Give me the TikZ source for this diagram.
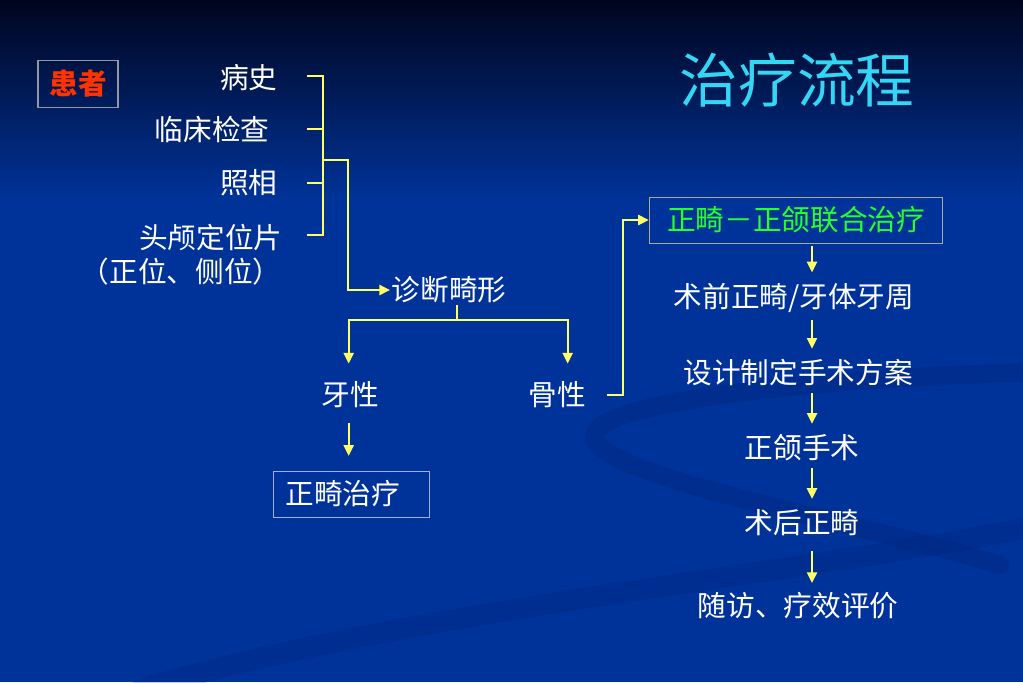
\documentclass[tikz,border=0pt]{standalone}
\usepackage{fontspec}
\setmainfont{Noto Sans CJK SC}
\usetikzlibrary{arrows.meta,positioning}
\definecolor{bgblue}{RGB}{0,51,153}
\definecolor{bgtop}{RGB}{0,5,30}
\definecolor{swoosh}{RGB}{0,30,110}
\definecolor{lineyellow}{RGB}{255,255,102}
\definecolor{titlecyan}{RGB}{51,214,245}
\definecolor{patred}{RGB}{255,51,0}
\definecolor{combogreen}{RGB}{40,255,40}
\definecolor{boxgray}{RGB}{150,150,160}
\definecolor{boxblue}{RGB}{160,175,215}
\tikzset{
  txt/.style={text=white,font=\fontsize{21.5}{24}\selectfont,inner sep=1pt},
  lnk/.style={draw=lineyellow,line width=1.6pt},
  arr/.style={lnk,-{Triangle[length=8pt,width=7.5pt]}},
}
\begin{document}
\begin{tikzpicture}[x=0.75pt,y=0.75pt,yscale=-1,xscale=1]
\useasboundingbox (0,0) rectangle (1023,682);
%background
\fill[bgblue] (0,0) rectangle (1023,682);
\shade[top color=bgtop,bottom color=bgblue] (0,0) rectangle (1023,200);
\draw[swoosh,line width=14pt,opacity=0.25,line cap=round] (1040,372) .. controls (800,378) and (560,405) .. (598,445) .. controls (640,485) and (850,520) .. (1000,565);
\draw[swoosh,line width=16pt,opacity=0.2,line cap=round] (140,690) .. controls (400,610) and (800,575) .. (1040,525);

%title
\node[text=titlecyan,font=\fontsize{44}{48}\selectfont] (title) at (797,80) {治疗流程};

%patient
\node[draw=boxgray,line width=1pt,text=patred,font=\bfseries\fontsize{21.5}{24}\selectfont,minimum width=60pt,minimum height=35pt] (patient) at (78,84) {患者};

%examinations
\node[txt,anchor=east] (hist) at (279,78) {病史};
\node[txt,anchor=east] (exam) at (271,130) {临床检查};
\node[txt,anchor=east] (photo) at (279,183) {照相};
\node[txt,anchor=east] (ceph) at (284,238) {头颅定位片};
\node[txt,anchor=east] (cephsub) at (283,272) {（正位、侧位）};

\coordinate (bx) at (307,0);
\coordinate (by) at (323,0);
\coordinate (bk) at (323,160);
\draw[lnk] (bx |- 0,76) -| (by |- 0,235) -- (bx |- 0,235);
\draw[lnk] (bx |- 0,129) -- (by |- 0,129);
\draw[lnk] (bx |- 0,183) -- (by |- 0,183);

%diagnosis
\node[txt] (diag) at (449,290) {诊断畸形};
\draw[arr] (bk) -- ++(25,0) |- (diag.west);

\node[txt] (dent) at (350,395) {牙性};
\node[txt] (skel) at (557,395) {骨性};
\draw[lnk] (diag.south -| 457,0) -- ++(0,15) coordinate (split);
\draw[arr,shorten >=12.5pt] (split) -| ([xshift=-1]dent.north);
\draw[arr,shorten >=12.5pt] (split) -| ([xshift=8]skel.north);

\node[txt,draw=boxblue,line width=0.75pt,text width=99pt,inner xsep=9pt,minimum height=34.5pt,anchor=west] (ortho) at (273,494) {正畸治疗};
\draw[arr,shorten <=10pt,shorten >=11pt] ([xshift=-1]dent.south) -- ([xshift=-1,yshift=0]dent.south |- ortho.north);

%combined treatment
\node[txt,draw=boxgray!80!lineyellow,line width=0.75pt,text=combogreen,minimum width=220pt,minimum height=34.5pt] (combo) at (796,220) {正畸－正颌联合治疗};
\draw[arr,shorten <=15pt] (skel.east) -- ++(36,0) |- (combo.west);

\coordinate (ax) at (812,0);
\node[txt] (pre) at (794,298) {术前正畸/牙体牙周};
\node[txt] (plan) at (798,373) {设计制定手术方案};
\node[txt] (surg) at (802,448) {正颌手术};
\node[txt] (post) at (802,523) {术后正畸};
\node[txt] (follow) at (798,606) {随访、疗效评价};
\draw[arr,shorten <=1.5pt,shorten >=7pt] (combo.south -| ax) -- (pre.north -| ax);
\draw[arr,shorten <=4pt,shorten >=7pt] (pre.south -| ax) -- (plan.north -| ax);
\draw[arr,shorten <=4pt,shorten >=7pt] (plan.south -| ax) -- (surg.north -| ax);
\draw[arr,shorten <=4pt,shorten >=7pt] (surg.south -| ax) -- (post.north -| ax);
\draw[arr,shorten <=10pt,shorten >=6pt] (post.south -| ax) -- (follow.north -| ax);
\end{tikzpicture}
\end{document}
